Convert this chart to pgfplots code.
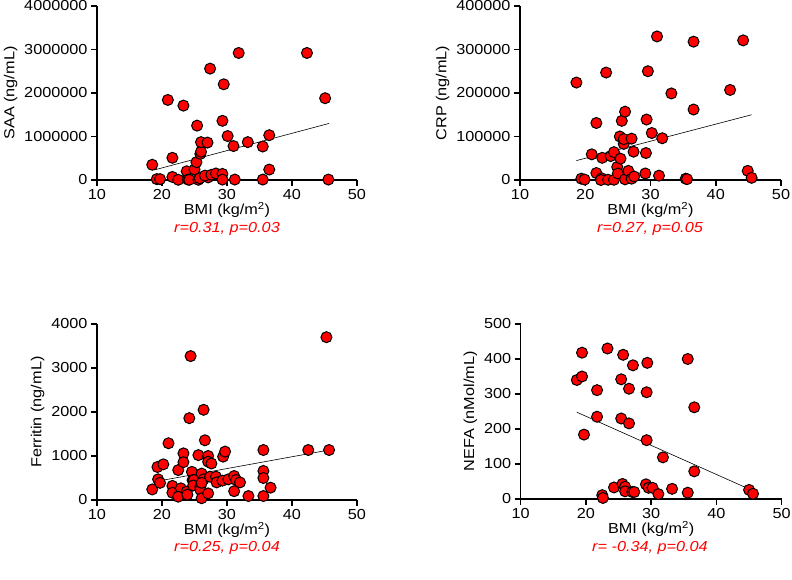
\documentclass[border=0pt]{standalone}
\usepackage{pgfplots}
\pgfplotsset{compat=1.18}
\usepackage{fontspec}
\setmainfont[FakeStretch=1.12]{Liberation Sans}
\definecolor{dotred}{RGB}{255,0,0}
\newcommand{\fs}{\fontsize{14.5}{17}\selectfont}
\pgfplotsset{
  panel/.style={
    scale only axis, width=260pt, height=174pt, anchor=south west,
    axis lines=left, axis line style={-, line width=1.5pt},
    tick style={black, line width=1.5pt},
    tick align=outside, major tick length=6pt,
    xmin=10, xmax=50, xtick={10,20,30,40,50}, ymin=0,
    clip=false,
    font=\fs,
    tick label style={font=\fs},
    label style={font=\fs},
    /pgf/number format/assume math mode=true,
    scaled y ticks=false,
    xlabel={BMI (kg/m\textsuperscript{2})},
    xlabel style={yshift=4pt},
  },
  dots/.style={only marks, mark=*, mark size=5.5pt, mark options={fill=dotred, draw=black, line width=1pt}},
  fitline/.style={black, line width=0.6pt, no marks},
}
\begin{document}
\begin{tikzpicture}
\useasboundingbox (0,0) rectangle (792pt,580pt);
% Panel 1: SAA
\begin{axis}[panel, at={(97pt,400pt)},
  ymax=4000000, ytick={0,1000000,2000000,3000000,4000000},
  yticklabels={0,1000000,2000000,3000000,4000000},
  ylabel={SAA (ng/mL)}]
\addplot[fitline] coordinates {(18.8,230000) (45.7,1300000)};
\addplot[dots] coordinates {
(18.5,350000) (19.2,20000) (19.7,20000) (20.9,1840000) (21.6,510000) (21.6,70000)
(22.5,5000) (23.3,1710000) (23.8,200000) (24.0,10000) (24.2,5000) (25.0,240000)
(25.3,410000) (25.4,1250000) (25.9,600000) (26.0,650000) (26.0,870000) (27.0,860000)
(27.4,2560000) (25.6,5000) (25.8,40000) (27.1,60000) (26.6,100000) (27.6,120000)
(28.3,150000) (29.3,140000) (29.3,10000) (29.3,1360000) (29.5,2200000) (30.1,1010000)
(31.0,780000) (31.2,10000) (31.8,2920000) (33.2,870000) (35.5,770000) (35.5,10000)
(36.5,1030000) (36.5,240000) (42.3,2920000) (45.1,1880000) (45.6,10000)};
\end{axis}
% Panel 2: CRP
\begin{axis}[panel, at={(520pt,400pt)}, width=261pt,
  ymax=400000, ytick={0,100000,200000,300000,400000},
  yticklabels={0,100000,200000,300000,400000},
  ylabel={CRP (ng/mL)}]
\addplot[fitline] coordinates {(18.65,44600) (45.5,150000)};
\addplot[dots] coordinates {
(18.65,224000) (19.4,3000) (19.9,1000) (21.0,59000) (21.7,131000) (21.7,16000)
(22.5,4000) (22.4,0) (22.6,51000) (23.2,247000) (23.5,500) (23.9,55000)
(24.4,64000) (24.4,500) (24.9,30000) (25.0,15000) (25.4,49000) (25.3,100000)
(25.6,136000) (25.9,83000) (25.9,94000) (26.1,157000) (26.1,1500) (26.6,21000)
(27.1,95000) (27.1,3000) (27.4,65000) (27.5,8000) (29.2,15000) (29.3,62000)
(29.4,139000) (29.6,250000) (30.2,108000) (31.0,330000) (31.3,10000) (31.8,96000)
(33.2,199000) (35.4,3000) (35.6,2000) (36.6,162000) (36.6,318000) (42.2,207000)
(44.2,321000) (44.9,21000) (45.5,5000)};
\end{axis}
% Panel 3: Ferritin
\begin{axis}[panel, at={(97pt,80pt)}, height=176pt,
  ymax=4000, ytick={0,1000,2000,3000,4000},
  yticklabels={0,1000,2000,3000,4000},
  ylabel={Ferritin (ng/mL)}]
\addplot[fitline] coordinates {(19.4,430) (45.7,1136)};
\addplot[dots] coordinates {
(18.5,240) (19.3,750) (19.4,470) (19.7,390) (20.2,810) (21.0,1290) (21.6,320)
(21.6,165) (22.5,680) (22.9,265) (22.5,75) (23.3,1060) (23.3,860) (23.8,190)
(23.9,120) (24.2,1860) (24.4,3270) (24.6,640) (24.7,450) (24.9,455) (24.8,330)
(25.6,1020) (25.9,300) (25.9,230) (26.1,600) (26.4,470) (26.1,390) (26.1,40)
(26.4,2050) (26.6,1357) (27.1,1000) (27.1,870) (27.1,150) (27.6,830) (27.4,530)
(28.3,530) (28.4,400) (29.3,440) (29.4,985) (29.7,1100) (30.2,470) (31.1,545)
(31.4,455) (32.0,400) (31.1,200) (33.3,90) (35.6,1136) (35.6,660) (35.6,500)
(35.6,90) (36.7,280) (42.5,1136) (45.3,3700) (45.7,1136)};
\end{axis}
% Panel 4: NEFA
\begin{axis}[panel, at={(520.7pt,81pt)}, width=261pt, height=175pt,
  ymax=500, ytick={0,100,200,300,400,500},
  yticklabels={0,100,200,300,400,500},
  ylabel={NEFA (nMol/mL)}]
\addplot[fitline] coordinates {(18.6,248) (45.3,26)};
\addplot[dots] coordinates {
(18.6,340) (19.4,418) (19.4,350) (19.7,184) (21.7,311) (21.7,235) (22.5,11)
(22.6,3) (23.3,430) (24.3,33) (25.4,342) (25.7,412) (25.4,230) (25.6,43)
(26.0,35) (26.0,22) (26.6,315) (26.6,216) (27.2,382) (27.1,20) (27.4,20)
(29.2,42) (29.3,305) (29.3,168) (29.4,389) (29.6,32) (30.2,32) (31.1,14)
(31.8,119) (33.2,29) (35.6,18) (35.6,400) (36.6,262) (36.6,79) (45.0,26) (45.6,15)};
\end{axis}
\node[text=dotred, font=\fs\itshape] at (227pt,351pt) {r=0.31, p=0.03};
\node[text=dotred, font=\fs\itshape] at (650pt,351pt) {r=0.27, p=0.05};
\node[text=dotred, font=\fs\itshape] at (227pt,32pt) {r=0.25, p=0.04};
\node[text=dotred, font=\fs\itshape] at (650pt,32pt) {r= -0.34, p=0.04};
\end{tikzpicture}
\end{document}
